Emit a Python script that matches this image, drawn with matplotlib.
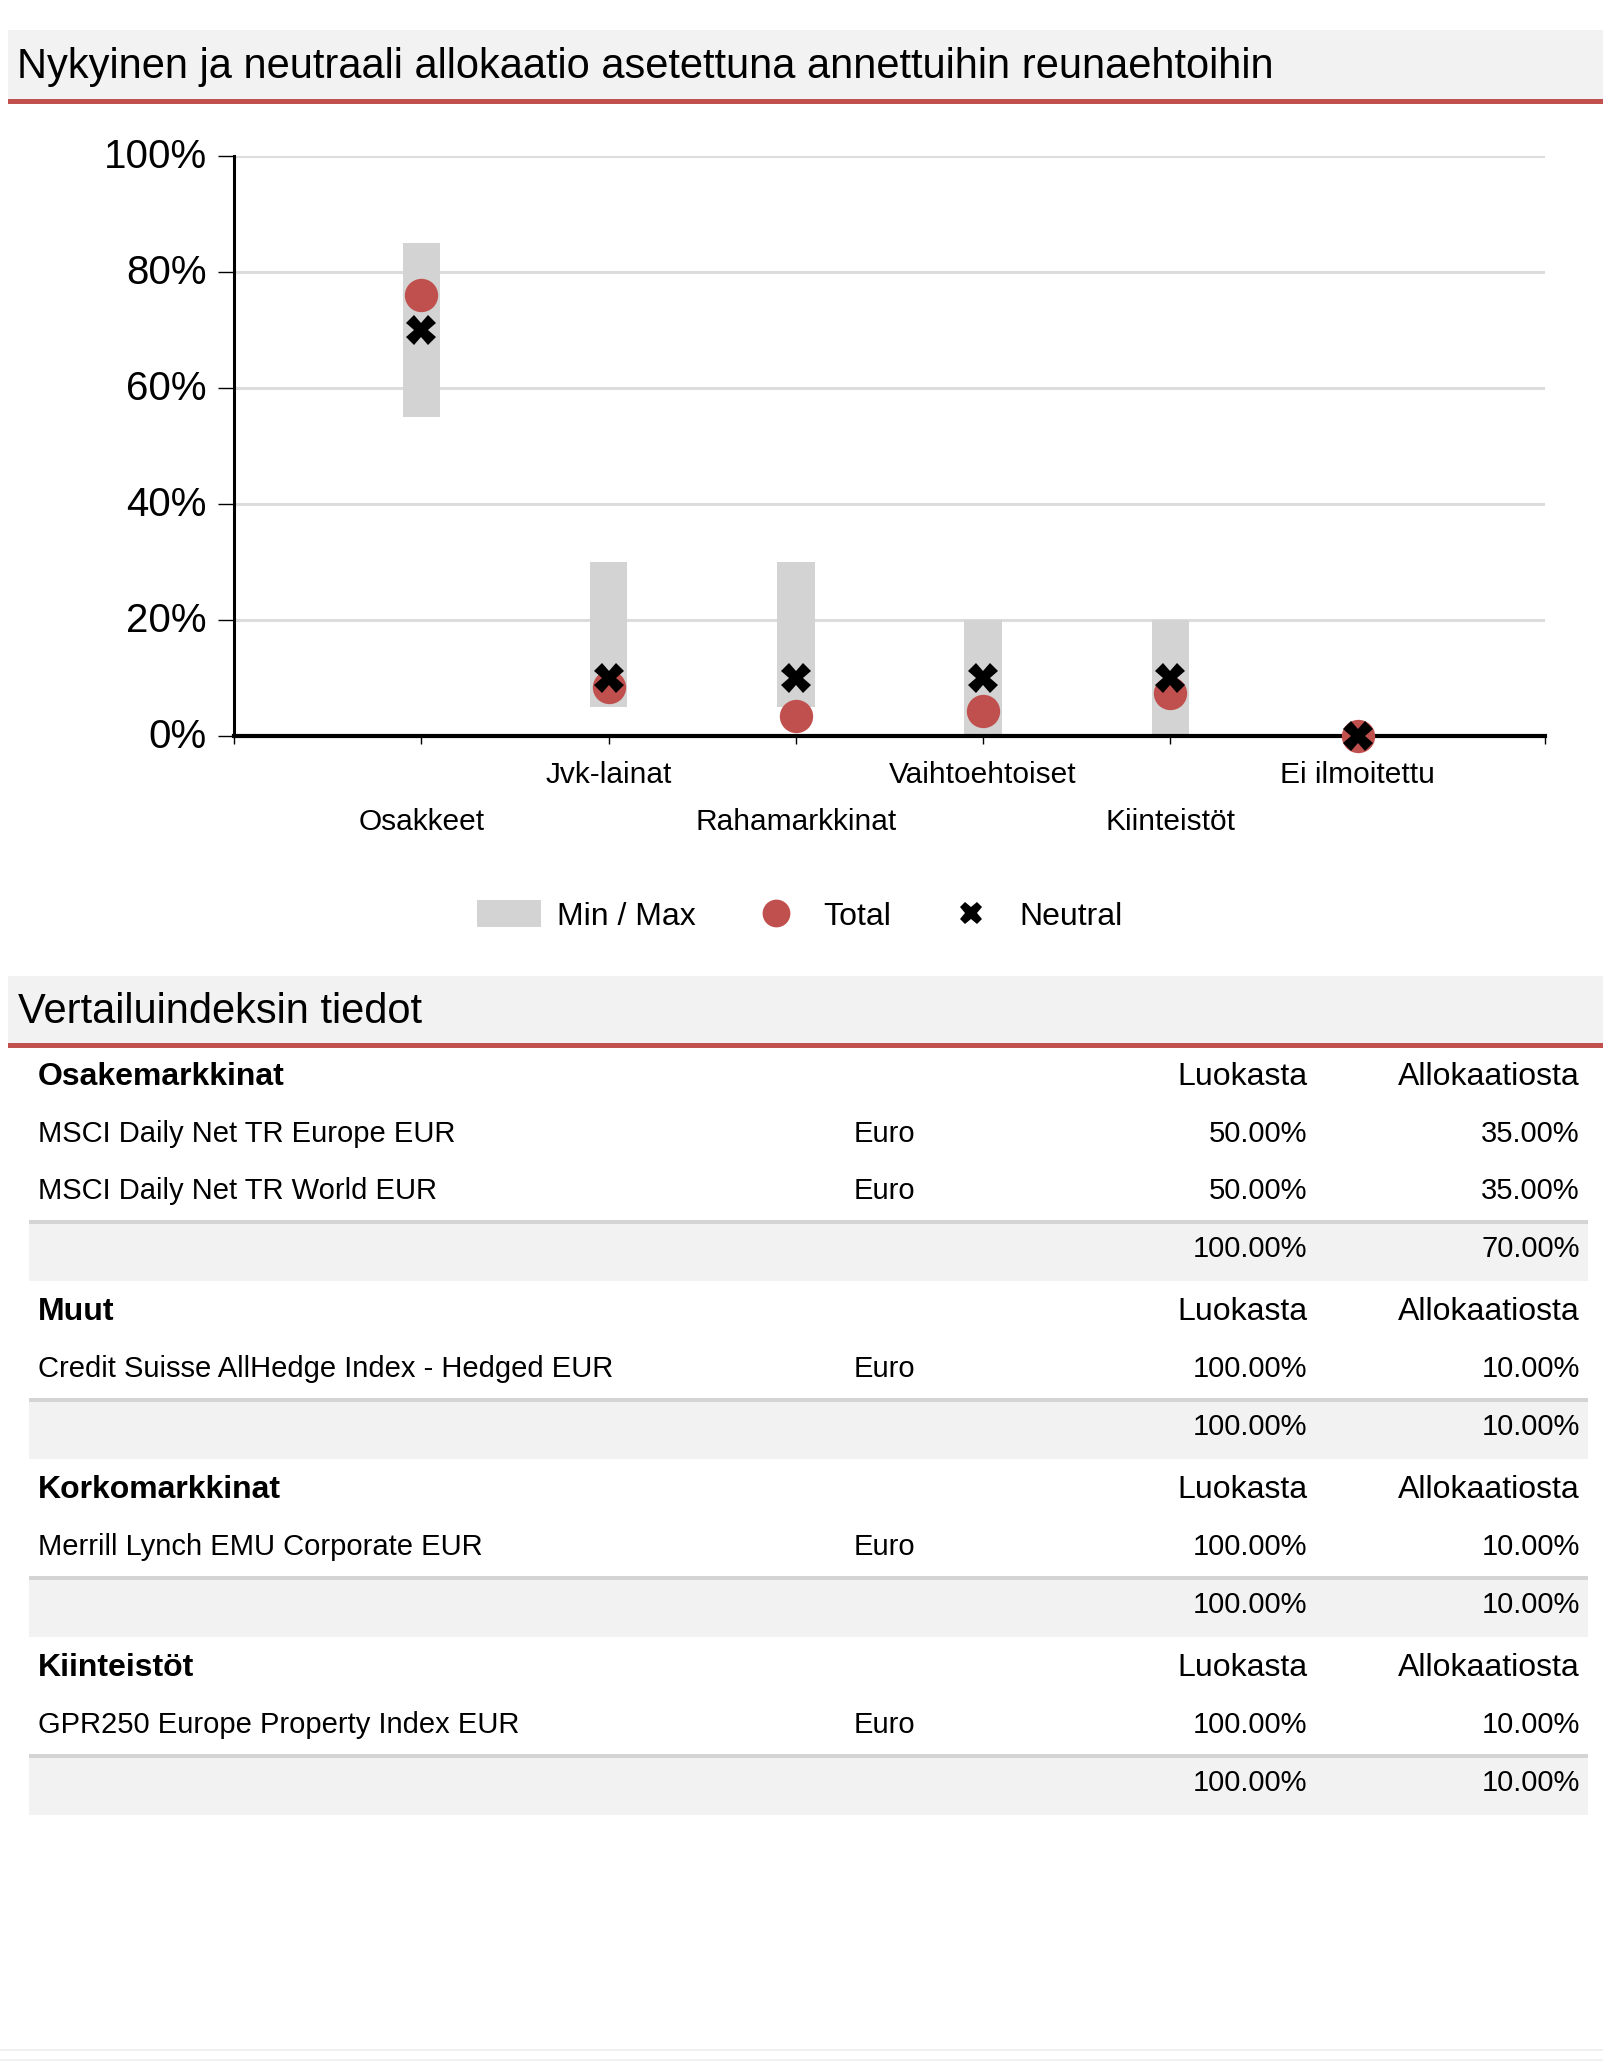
import matplotlib
matplotlib.use("Agg")
import matplotlib.pyplot as plt
from matplotlib.patches import Rectangle, Patch
from matplotlib.lines import Line2D
from matplotlib.ticker import PercentFormatter
from matplotlib.transforms import ScaledTranslation

plt.rcParams['font.family'] = ['Liberation Sans', 'DejaVu Sans']

# === Data ===
categories = ["Osakkeet", "Jvk-lainat", "Rahamarkkinat", "Vaihtoehtoiset", "Kiinteistöt", "Ei ilmoitettu"]
min_alloc = [55, 5, 5, 0, 0, 0]
max_alloc = [85, 30, 30, 20, 20, 0]
total_alloc = [76, 8.5, 3.5, 4.3, 7.4, 0]
neutral_alloc = [70, 10, 10, 10, 10, 0]

chart_title = "Nykyinen ja neutraali allokaatio asetettuna annettuihin reunaehtoihin"
table_title = "Vertailuindeksin tiedot"
col_class = "Luokasta"
col_alloc = "Allokaatiosta"
groups = ["Osakemarkkinat", "Muut", "Korkomarkkinat", "Kiinteistöt"]
index_names = [["MSCI Daily Net TR Europe EUR", "MSCI Daily Net TR World EUR"],
               ["Credit Suisse AllHedge Index - Hedged EUR"],
               ["Merrill Lynch EMU Corporate EUR"],
               ["GPR250 Europe Property Index EUR"]]
currencies = [["Euro", "Euro"], ["Euro"], ["Euro"], ["Euro"]]
share_of_class = [[50.0, 50.0], [100.0], [100.0], [100.0]]
share_of_alloc = [[35.0, 35.0], [10.0], [10.0], [10.0]]

RED = '#c0504d'
BAND = '#f2f2f2'
W, H = 1603, 2062

fig = plt.figure(figsize=(W / 100, H / 100), dpi=100)

# background layer in pixel coordinates
bg = fig.add_axes([0, 0, 1, 1], zorder=0)
bg.set_xlim(0, W)
bg.set_ylim(H, 0)
bg.axis("off")

# === Section header: chart ===
bg.add_patch(Rectangle((8, 30), W - 8, 69, fc=BAND, ec='none'))
bg.add_patch(Rectangle((8, 99), W - 8, 4.5, fc=RED, ec='none'))
bg.text(17, 78, chart_title, fontsize=30, va='baseline', ha='left')

# === Chart ===
ax = fig.add_axes([234 / W, 1 - 736 / H, (1545 - 234) / W, (736 - 156) / H], zorder=1)
ax.set_facecolor('none')
x = list(range(1, len(categories) + 1))
heights = [mx - mn for mn, mx in zip(min_alloc, max_alloc)]
ax.bar(x, heights, bottom=min_alloc, width=0.2, color='#d3d3d3', zorder=2)
ax.plot(x, total_alloc, 'o', color=RED, markersize=24, markeredgewidth=0, zorder=3, clip_on=False)
ax.plot(x, neutral_alloc, 'X', color='black', markersize=21, markeredgewidth=0, zorder=4, clip_on=False)

ax.set_xlim(0, 7)
ax.set_ylim(0, 100)
ax.set_yticks([0, 20, 40, 60, 80, 100])
ax.yaxis.set_major_formatter(PercentFormatter(100, decimals=0))
ax.set_xticks(range(0, 8))
ax.set_xticklabels([])
ax.grid(axis='y', color='#dcdcdc', linewidth=2.2, zorder=0)
ax.set_axisbelow(True)
for s in ['top', 'right']:
    ax.spines[s].set_visible(False)
ax.spines['left'].set_linewidth(2.2)
ax.spines['bottom'].set_linewidth(3)
ax.spines['bottom'].set_zorder(2.5)
ax.tick_params(axis='y', length=11.5, width=1, pad=8, labelsize=29)
ax.tick_params(axis='x', length=6, width=1)
for lbl in ax.get_yticklabels():
    lbl.set_transform(lbl.get_transform() + ScaledTranslation(0, 0.03, fig.dpi_scale_trans))

for i, cat in enumerate(categories):
    off = 34 if i % 2 == 1 else 68
    ax.annotate(cat, xy=(x[i], 0), xycoords=('data', 'axes fraction'),
                xytext=(0, -off), textcoords='offset points',
                ha='center', va='baseline', fontsize=21.5)

handles = [Patch(facecolor='#d3d3d3', edgecolor='none'),
           Line2D([], [], marker='o', linestyle='none', color=RED, markersize=20, markeredgewidth=0),
           Line2D([], [], marker='X', linestyle='none', color='black', markersize=16, markeredgewidth=0)]
fig.legend(handles, ["Min / Max", "Total", "Neutral"], loc='center',
           bbox_to_anchor=(800 / W, 1 - 916 / H), ncol=3, frameon=False, fontsize=23,
           handlelength=2, handleheight=0.9, handletextpad=0.5, columnspacing=1.5)

# === Section header: table ===
bg.add_patch(Rectangle((8, 976), W - 8, 67, fc=BAND, ec='none'))
bg.add_patch(Rectangle((8, 1043), W - 8, 4.5, fc=RED, ec='none'))
bg.text(18, 1023, table_title, fontsize=30, va='baseline', ha='left')

# === Table ===
x_name, x_cur, x_class, x_alloc = 38, 854, 1307, 1580
y = 1085
for g, names, curs, cls, alc in zip(groups, index_names, currencies, share_of_class, share_of_alloc):
    bg.text(x_name, y, g, fontsize=23, fontweight='bold', va='baseline')
    bg.text(x_class, y, col_class, fontsize=23, va='baseline', ha='right')
    bg.text(x_alloc, y, col_alloc, fontsize=23, va='baseline', ha='right')
    row_y = y
    for n, c, v1, v2 in zip(names, curs, cls, alc):
        row_y += 57
        bg.text(x_name, row_y, n, fontsize=21, va='baseline')
        bg.text(x_cur, row_y, c, fontsize=21, va='baseline')
        bg.text(x_class, row_y, f"{v1:.2f}%", fontsize=21, va='baseline', ha='right')
        bg.text(x_alloc, row_y, f"{v2:.2f}%", fontsize=21, va='baseline', ha='right')
    sep = row_y + 23
    bg.add_patch(Rectangle((29, sep - 2), 1559, 4, fc='#d4d4d4', ec='none'))
    bg.add_patch(Rectangle((29, sep + 2), 1559, 57, fc=BAND, ec='none'))
    bg.text(x_class, sep + 35, f"{sum(cls):.2f}%", fontsize=21, va='baseline', ha='right')
    bg.text(x_alloc, sep + 35, f"{sum(alc):.2f}%", fontsize=21, va='baseline', ha='right')
    y = sep + 59 + 39

# faint footer lines
bg.add_patch(Rectangle((0, 2049), W, 1.5, fc='#f0f0f0', ec='none'))
bg.add_patch(Rectangle((0, 2059), W, 2, fc=BAND, ec='none'))

plt.savefig("out.png", dpi=100)
